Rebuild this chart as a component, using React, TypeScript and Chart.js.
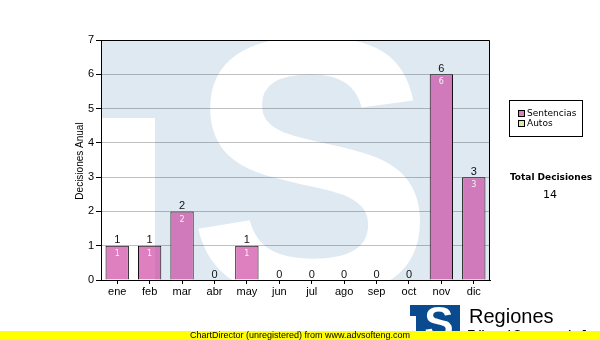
import React, { useEffect, useRef } from 'react';
import { Chart, registerables } from 'chart.js';

Chart.register(...registerables);

const months = ['ene', 'feb', 'mar', 'abr', 'may', 'jun', 'jul', 'ago', 'sep', 'oct', 'nov', 'dic'];
const sentencias = [1, 1, 2, 0, 1, 0, 0, 0, 0, 0, 6, 3];
const autos = [0, 0, 0, 0, 0, 0, 0, 0, 0, 0, 0, 0];
const seriesNames = ['Sentencias', 'Autos'];
const seriesColors = ['#de80c0', '#d8eca2'];
const yMin = 0;
const yMax = 7;
const yStep = 1;
const yTitle = 'Decisiones Anual';
const totalTitle = 'Total Decisiones';
const footerText = 'ChartDirector (unregistered) from www.advsofteng.com';
const brandText = 'Regiones';
const brandSub = 'Tribunal Supremo de Justicia';

const total = sentencias.reduce((s, v) => s + v, 0) + autos.reduce((s, v) => s + v, 0);

const SANS = '"Liberation Sans", Arial, sans-serif';
const TAHOMA = '"DejaVu Sans", Verdana, sans-serif';

const decoPlugin = {
  id: 'deco',
  beforeDraw(chart: any) {
    const ctx = chart.ctx;
    ctx.save();
    ctx.fillStyle = '#ffffff';
    ctx.fillRect(0, 0, chart.width, chart.height);
    ctx.restore();
  },
  afterDatasetsDraw(chart: any) {
    const { ctx, chartArea: a } = chart;
    const off = document.createElement('canvas');
    off.width = chart.width;
    off.height = chart.height;
    const o = off.getContext('2d') as CanvasRenderingContext2D;
    o.fillStyle = '#dfe9f2';
    o.fillRect(a.left, a.top, a.right - a.left, a.bottom - a.top);
    o.fillStyle = '#ffffff';
    o.fillRect(a.left, 118, 155 - a.left, a.bottom - 118);
    o.font = 'bold 370px ' + SANS;
    o.textAlign = 'center';
    o.textBaseline = 'alphabetic';
    o.fillText('S', 311, 295);
    // weaken the watermark over the bars
    o.fillStyle = 'rgba(255,255,255,0.5)';
    chart.getDatasetMeta(0).data.forEach((el: any) => {
      const w = el.width;
      o.fillRect(el.x - w / 2, el.y, w, el.base - el.y);
    });
    ctx.save();
    ctx.beginPath();
    ctx.rect(a.left + 1, a.top + 1, a.right - a.left - 1, a.bottom - a.top - 1);
    ctx.clip();
    ctx.globalCompositeOperation = 'multiply';
    ctx.drawImage(off, 0, 0);
    ctx.restore();
  },
  afterDraw(chart: any) {
    const { ctx, chartArea: a } = chart;
    ctx.save();
    // top & right border
    ctx.strokeStyle = '#000';
    ctx.lineWidth = 1;
    ctx.beginPath();
    ctx.moveTo(a.left, Math.round(a.top) + 0.5);
    ctx.lineTo(Math.round(a.right) - 0.5, Math.round(a.top) + 0.5);
    ctx.lineTo(Math.round(a.right) - 0.5, a.bottom);
    ctx.stroke();

    // value labels
    const meta = chart.getDatasetMeta(0);
    meta.data.forEach((el: any, i: number) => {
      const v = sentencias[i];
      ctx.font = '11px ' + SANS;
      ctx.fillStyle = '#111';
      ctx.textAlign = 'center';
      ctx.textBaseline = 'alphabetic';
      ctx.fillText(String(v), el.x, el.y - 2.5);
      if (v > 0) {
        ctx.font = '8px ' + TAHOMA;
        ctx.fillStyle = '#f4f4f4';
        ctx.textBaseline = 'top';
        ctx.fillText(String(v), el.x, el.y + 4);
      }
    });

    // y title
    ctx.save();
    ctx.translate(80, 161);
    ctx.rotate(-Math.PI / 2);
    ctx.font = '10px ' + SANS;
    ctx.fillStyle = '#000';
    ctx.textAlign = 'center';
    ctx.textBaseline = 'middle';
    ctx.fillText(yTitle, 0, 0);
    ctx.restore();

    // legend
    ctx.strokeStyle = '#000';
    ctx.strokeRect(509.5, 100.5, 73, 36);
    seriesNames.forEach((name, i) => {
      const y = 110 + i * 10;
      ctx.fillStyle = seriesColors[i];
      ctx.fillRect(518, y, 7, 7);
      ctx.strokeStyle = '#000';
      ctx.strokeRect(518.5, y + 0.5, 6, 6);
      ctx.fillStyle = '#000';
      ctx.font = '9px ' + TAHOMA;
      ctx.textAlign = 'left';
      ctx.textBaseline = 'middle';
      ctx.fillText(name, 527, y + 4);
    });

    // total
    ctx.fillStyle = '#000';
    ctx.textAlign = 'center';
    ctx.textBaseline = 'middle';
    ctx.font = 'bold 9px ' + TAHOMA;
    ctx.fillText(totalTitle, 551, 178);
    ctx.font = '11px ' + TAHOMA;
    ctx.fillText(String(total), 550, 195);

    // logo
    ctx.fillStyle = '#0a4a8e';
    ctx.fillRect(410, 305, 50, 26);
    ctx.save();
    ctx.beginPath();
    ctx.rect(410, 305, 50, 26);
    ctx.clip();
    ctx.fillStyle = '#fff';
    ctx.fillRect(410, 316, 6, 15);
    ctx.font = 'bold 44px ' + SANS;
    ctx.textAlign = 'center';
    ctx.textBaseline = 'alphabetic';
    ctx.fillText('S', 439, 338);
    ctx.restore();

    ctx.fillStyle = '#000';
    ctx.textAlign = 'left';
    ctx.textBaseline = 'alphabetic';
    ctx.font = '20px ' + SANS;
    ctx.fillText(brandText, 469, 323);
    ctx.font = 'bold 11px ' + SANS;
    ctx.fillText(brandSub, 468, 338);

    // footer band
    ctx.fillStyle = '#ffff00';
    ctx.fillRect(0, 331, chart.width, 9);
    ctx.fillStyle = '#000';
    ctx.font = '10px ' + SANS;
    const w = ctx.measureText(footerText).width;
    const size = 10 * 220 / w;
    ctx.font = size.toFixed(2) + 'px ' + SANS;
    ctx.fillText(footerText, 190, 338);
    ctx.restore();
  },
};

export default function App() {
  const ref = useRef<HTMLCanvasElement>(null);
  useEffect(() => {
    if (!ref.current) return;
    const chart = new Chart(ref.current, {
      type: 'bar',
      data: {
        labels: months,
        datasets: [
          {
            label: seriesNames[0],
            data: sentencias,
            backgroundColor: seriesColors[0],
            borderColor: '#000',
            borderWidth: 1,
            categoryPercentage: 1,
            barPercentage: 0.72,
          },
        ],
      },
      options: {
        animation: false,
        responsive: false,
        devicePixelRatio: 1,
        layout: { padding: { left: 0, top: 40, right: 110, bottom: 40 } },
        plugins: { legend: { display: false }, tooltip: { enabled: false }, title: { display: false } },
        scales: {
          x: {
            afterFit: (s: any) => { s.height = 20; },
            grid: { drawOnChartArea: false, drawTicks: true, tickLength: 4, tickColor: '#000', offset: false },
            border: { color: '#000', width: 1 },
            ticks: { color: '#000', font: { family: SANS, size: 11 }, padding: 1, maxRotation: 0, autoSkip: false },
          },
          y: {
            min: yMin,
            max: yMax,
            afterFit: (s: any) => { s.width = 101; },
            grid: { color: '#c0c0c0', tickColor: '#000', tickLength: 5, drawTicks: true },
            border: { color: '#000', width: 1 },
            ticks: { stepSize: yStep, color: '#000', font: { family: SANS, size: 11 }, padding: 2 },
          },
        },
      },
      plugins: [decoPlugin],
    } as any);
    return () => chart.destroy();
  }, []);
  return (
    <div style={{ position: 'fixed', left: 0, top: 0, width: 600, height: 340 }}>
      <canvas ref={ref} width={600} height={340} />
    </div>
  );
}
